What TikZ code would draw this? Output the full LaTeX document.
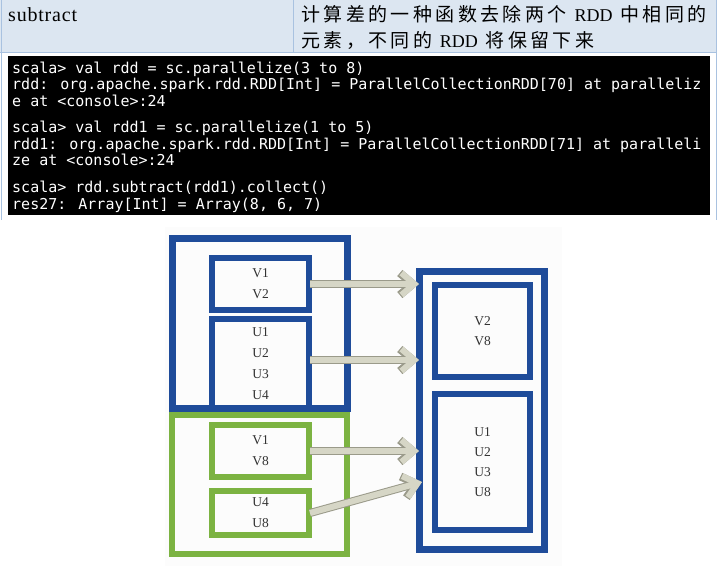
\documentclass[tikz,border=0pt]{standalone}
\usepackage{fontspec}
\setmainfont{Liberation Serif}
\newfontfamily\cjkfont[LetterSpace=18]{Noto Sans CJK SC}
\newfontfamily\headfont[LetterSpace=4]{Liberation Serif}
\newfontfamily\termfont{DejaVu Sans Mono}
\newcommand{\rddname}{{\fontspec{Liberation Serif}\fontsize{18}{25}\selectfont RDD}}
\usetikzlibrary{arrows.meta,positioning,calc}
\definecolor{headblue}{HTML}{DCE6F1}
\definecolor{ruleblue}{HTML}{A9C2E0}
\definecolor{rddblue}{HTML}{1F4C9A}
\definecolor{rddgreen}{HTML}{7CB342}
\definecolor{arrowfill}{HTML}{D6D6C6}
\definecolor{arrowedge}{HTML}{9A9A8A}
\definecolor{labelgrey}{HTML}{333333}
\definecolor{diagbg}{HTML}{FCFCFC}
\tikzset{
  termline/.style={anchor=base west,inner sep=0pt,text=white,font=\termfont\fontsize{15}{16}\selectfont},
  rddbox/.style={line width=6pt,inner sep=0pt,align=center,text=labelgrey,font=\fontsize{13.5}{21}\selectfont},
  bluebox/.style={rddbox,draw=rddblue},
  greenbox/.style={rddbox,draw=rddgreen},
  fatarrow/.style={draw=arrowfill,line width=6pt,-{Straight Barb[length=13pt,width=22pt]},
    preaction={draw=arrowedge,line width=8pt,-{Straight Barb[length=13pt,width=22pt]}}}
}

\begin{document}
\begin{tikzpicture}[x=1pt,y=-1pt]
  \useasboundingbox (0,0) rectangle (720,566);
  % header row of the table
  \fill[headblue] (0,0) rectangle (717,52);
  \draw[ruleblue] (293,0) -- (293,52);
  \draw[ruleblue] (0,52) -- (717,52);
  \draw[ruleblue] (1,0) -- (1,220);
  \draw[ruleblue] (716,0) -- (716,220);
  \node[anchor=west,inner sep=0pt,font=\headfont\fontsize{20}{22}\selectfont] (fname) at (8,15) {subtract};
  \node[anchor=west,inner sep=0pt,font=\cjkfont\fontsize{19}{25}\selectfont] (desc1) at (301,14) {计算差的一种函数去除两个 \rddname{} 中相同的};
  \node[anchor=west,inner sep=0pt,font=\cjkfont\fontsize{19}{25}\selectfont] (desc2) at (301,40) {元素，不同的 \rddname{} 将保留下来};

  % console
  \fill[black] (8,56) rectangle (710,215);
  \node[termline] (t1) at (12,73) {scala> val rdd = sc.parallelize(3 to 8)};
  \node[termline] (t2) at (12,89.5) {rdd: org.apache.spark.rdd.RDD[Int] = ParallelCollectionRDD[70] at paralleliz};
  \node[termline] (t3) at (12,106) {e at <console>:24};
  \node[termline] (t4) at (12,132) {scala> val rdd1 = sc.parallelize(1 to 5)};
  \node[termline] (t5) at (12,149) {rdd1: org.apache.spark.rdd.RDD[Int] = ParallelCollectionRDD[71] at paralleli};
  \node[termline] (t6) at (12,165) {ze at <console>:24};
  \node[termline] (t7) at (12,192) {scala> rdd.subtract(rdd1).collect()};
  \node[termline] (t8) at (12,209) {res27: Array[Int] = Array(8, 6, 7)};

  % diagram
  \fill[diagbg] (165,227) rectangle (562,566);
  \node[bluebox,line width=7pt,minimum width=175pt,minimum height=170pt] (lo) at (260,323.5) {};
  \node[greenbox,minimum width=175pt,minimum height=139pt] (go) at (259.5,484.5) {};
  \node[bluebox,line width=7pt,minimum width=125pt,minimum height=278pt] (ro) at (482,410.5) {};

  \node[bluebox,minimum width=97pt,minimum height=52pt] (lv) at (260.5,284) {V1\\V2};
  \node[bluebox,minimum width=97pt,minimum height=90pt] (lu) at (260.5,364) {U1\\U2\\U3\\U4};
  \node[greenbox,minimum width=97pt,minimum height=52pt] (gv) at (260.5,451) {V1\\V8};
  \node[greenbox,minimum width=97pt,minimum height=44pt] (gu) at (260.5,513) {U4\\U8};
  \node[bluebox,minimum width=95pt,minimum height=92pt,font=\fontsize{13.5}{20}\selectfont] (rv) at (482.5,331) {V2\\V8};
  \node[bluebox,minimum width=95pt,minimum height=136pt,font=\fontsize{13.5}{20}\selectfont] (ru) at (482.5,462) {U1\\U2\\U3\\U8};

  \coordinate (h4) at (422,482);
  \draw[fatarrow] ([xshift=-2pt]lv.east) -- ([xshift=3pt]lv.east -| ro.west);
  \draw[fatarrow] ([xshift=-2pt,yshift=4pt]lu.east) -- ([xshift=3pt,yshift=4pt]lu.east -| ro.west);
  \draw[fatarrow] ([xshift=-2pt]gv.east) -- ([xshift=3pt]gv.east -| ro.west);
  \draw[fatarrow] ([xshift=-2pt]gu.east) -- (h4);
\end{tikzpicture}
\end{document}
